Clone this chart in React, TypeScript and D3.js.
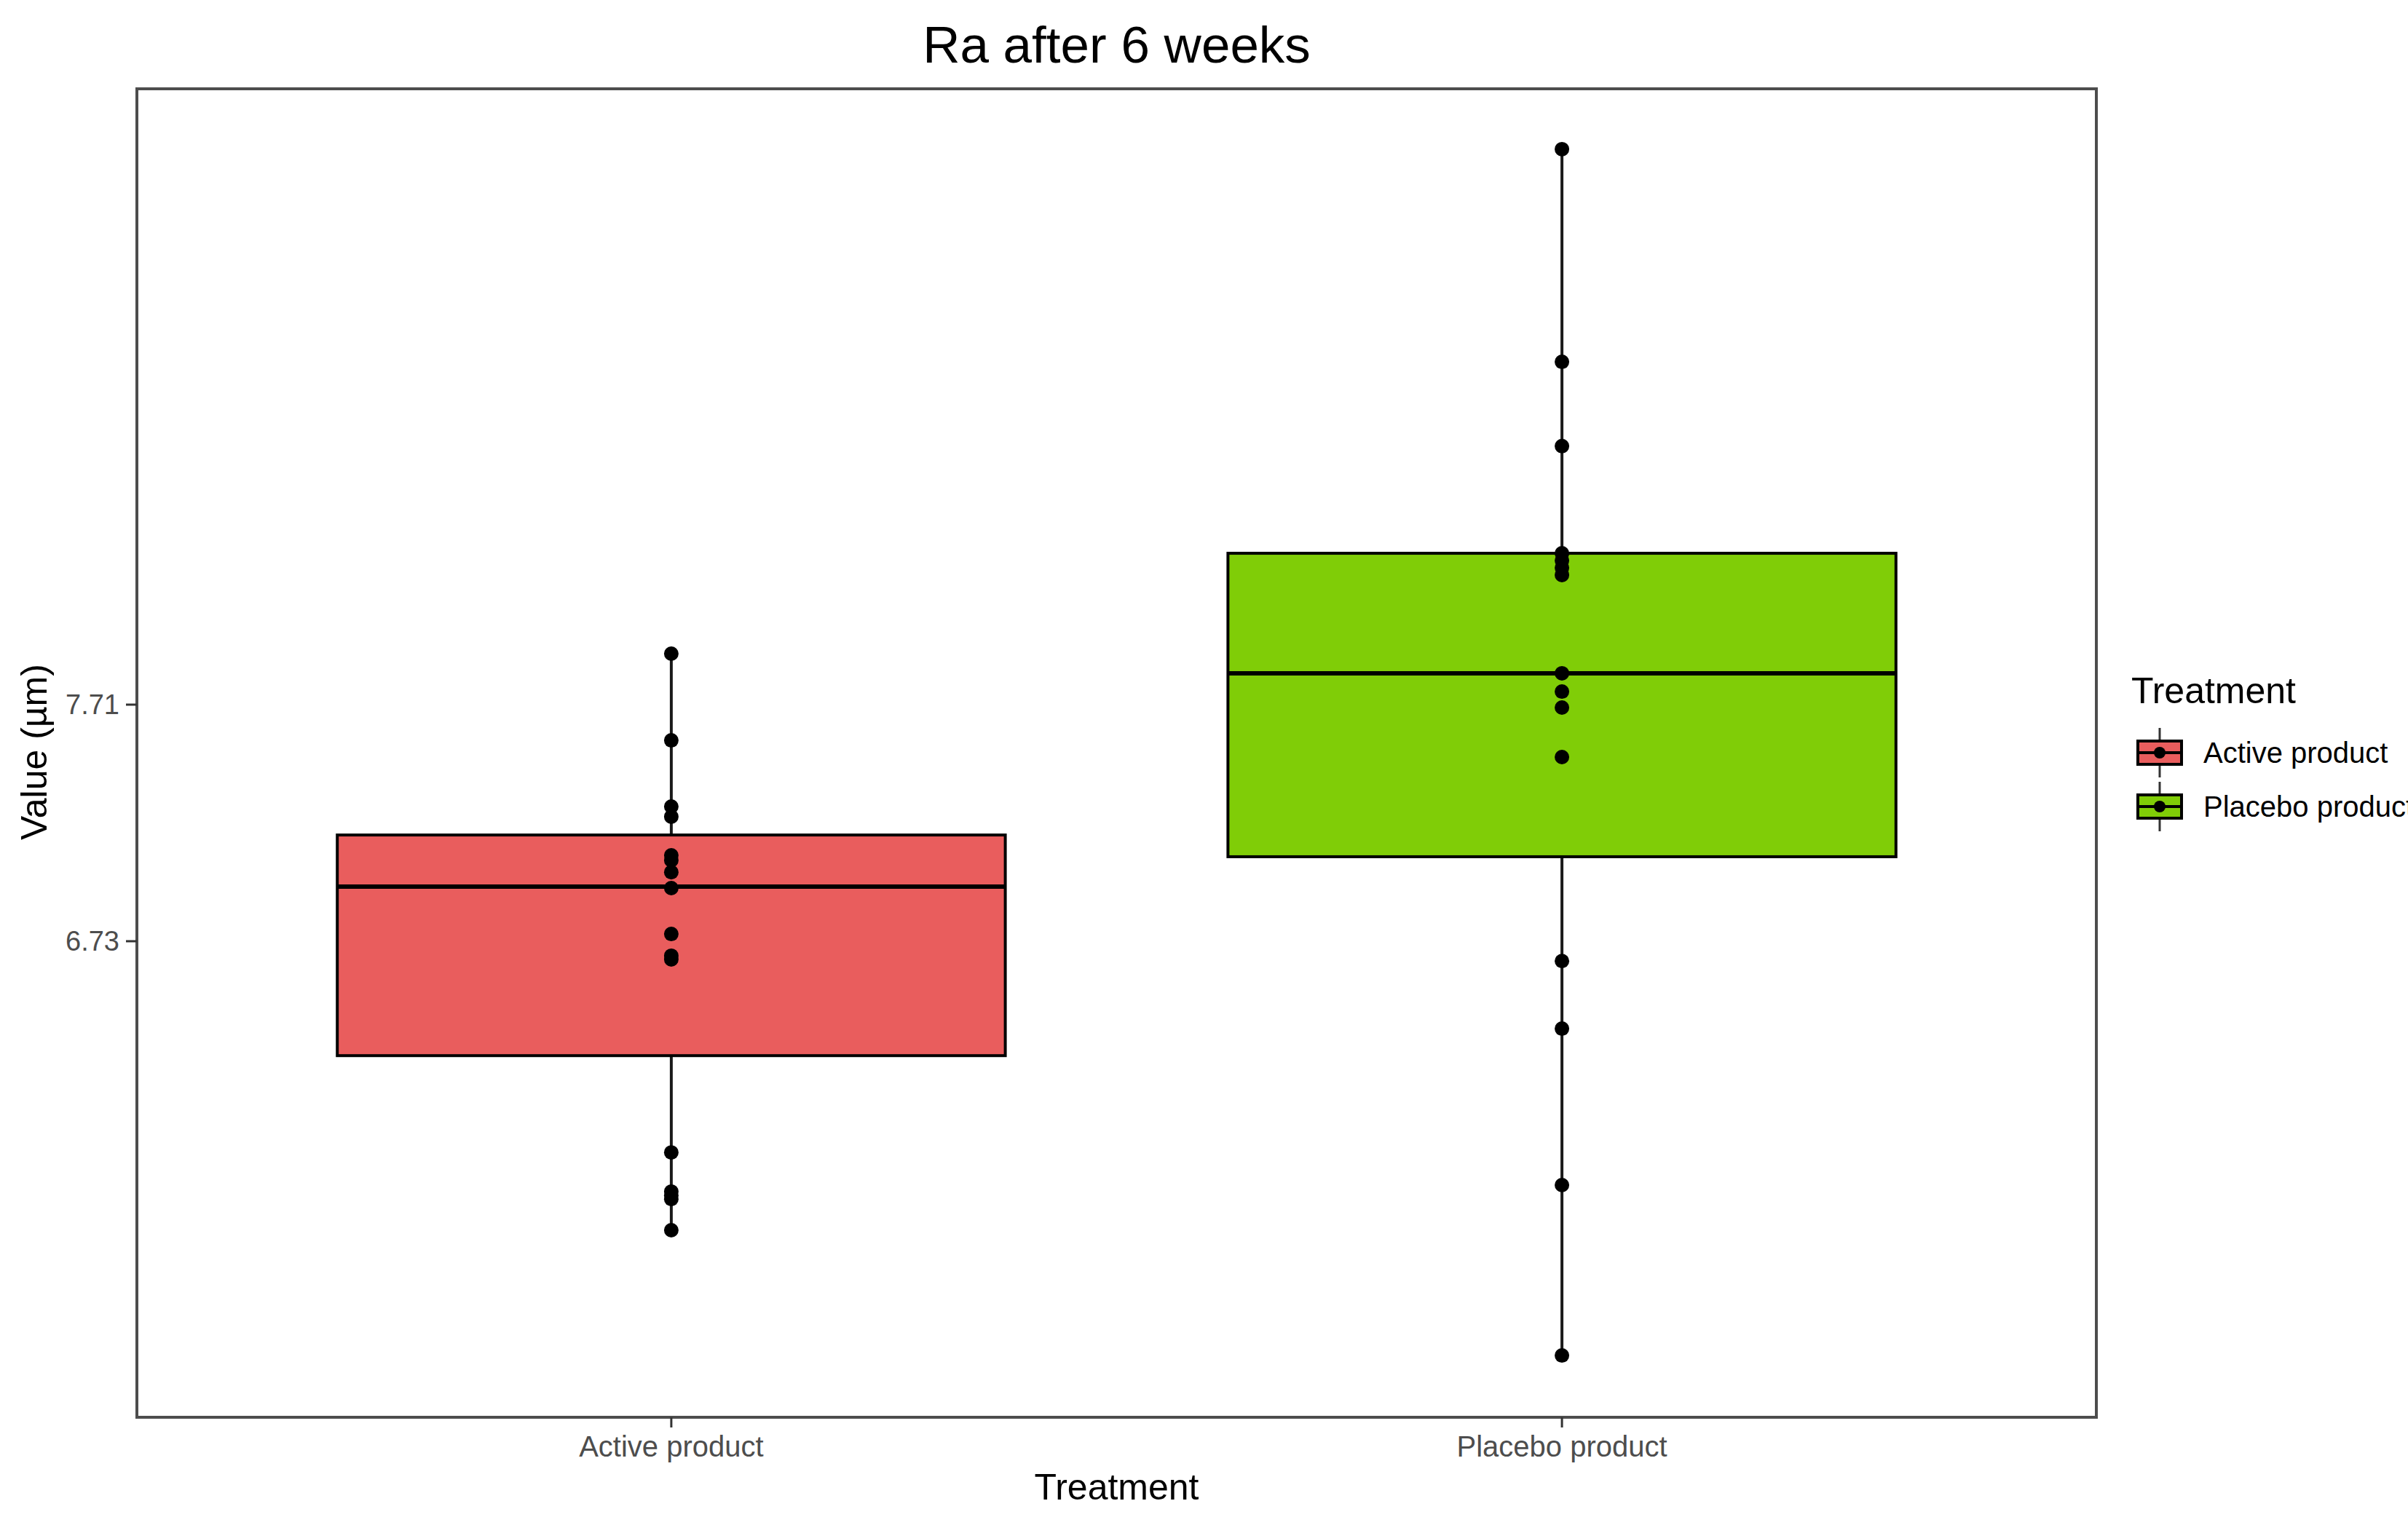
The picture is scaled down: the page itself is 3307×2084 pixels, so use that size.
import React from "react";
import * as d3 from "d3";

const categories = ["Active product", "Placebo product"];
const colors = ["#E95D5D", "#80CD07"];

// box statistics per category: [lower whisker, Q1, median, Q3, upper whisker]
const boxStats = [
  [5.533, 6.256, 6.956, 7.17, 7.921],
  [5.014, 7.08, 7.84, 8.337, 10.011],
];

const activeValues = [7.921, 7.562, 7.288, 7.246, 7.086, 7.065, 7.016, 6.95, 6.76, 6.67, 6.655, 5.855, 5.693, 5.677, 5.662, 5.533];
const placeboValues = [10.011, 9.13, 8.781, 8.337, 8.307, 8.277, 8.247, 7.84, 7.764, 7.698, 7.493, 6.648, 6.368, 5.72, 5.014];
const seriesValues = [activeValues, placeboValues];

const yTicks = [6.73, 7.71];
const yDomain = [4.758, 10.261];

const W = 3307;
const H = 2084;
const panel = { left: 188, top: 122, right: 2879, bottom: 1947 };
const font = "'Liberation Sans', Arial, sans-serif";

export default function App() {
  const x = d3.scalePoint<string>().domain(categories).range([panel.left, panel.right]).padding(0.6);
  const y = d3.scaleLinear().domain(yDomain).range([panel.bottom, panel.top]);
  const boxW = x.step() * 0.75;

  return (
    <svg
      width={W}
      height={H}
      style={{ position: "absolute", left: 0, top: 0, background: "#fff" }}
      fontFamily={font}
    >
      <rect x={0} y={0} width={W} height={H} fill="#fff" />
      {/* title */}
      <text x={(panel.left + panel.right) / 2} y={86} fontSize={71} textAnchor="middle" fill="#000">
        Ra after 6 weeks
      </text>

      {/* boxes */}
      {categories.map((c, i) => {
        const cx = x(c)!;
        const [lo, q1, med, q3, hi] = boxStats[i];
        return (
          <g key={c}>
            <line x1={cx} x2={cx} y1={y(hi)} y2={y(q3)} stroke="#1a1a1a" strokeWidth={4} />
            <line x1={cx} x2={cx} y1={y(q1)} y2={y(lo)} stroke="#1a1a1a" strokeWidth={4} />
            <rect
              x={cx - boxW / 2}
              y={y(q3)}
              width={boxW}
              height={y(q1) - y(q3)}
              fill={colors[i]}
              stroke="#000"
              strokeWidth={4}
            />
            <line x1={cx - boxW / 2} x2={cx + boxW / 2} y1={y(med)} y2={y(med)} stroke="#000" strokeWidth={6} />
            {seriesValues[i].map((v, j) => (
              <circle key={j} cx={cx} cy={y(v)} r={10} fill="#000" />
            ))}
          </g>
        );
      })}

      {/* panel border */}
      <rect
        x={panel.left}
        y={panel.top}
        width={panel.right - panel.left}
        height={panel.bottom - panel.top}
        fill="none"
        stroke="#4d4d4d"
        strokeWidth={4}
      />

      {/* y axis ticks */}
      {yTicks.map((t) => (
        <g key={t}>
          <line x1={panel.left - 15} x2={panel.left} y1={y(t)} y2={y(t)} stroke="#333" strokeWidth={3} />
          <text x={panel.left - 24} y={y(t)} dy="0.35em" fontSize={38} textAnchor="end" fill="#4d4d4d">
            {t.toFixed(2)}
          </text>
        </g>
      ))}
      {/* x axis ticks */}
      {categories.map((c) => (
        <g key={c}>
          <line x1={x(c)} x2={x(c)} y1={panel.bottom} y2={panel.bottom + 14} stroke="#333" strokeWidth={3} />
          <text x={x(c)} y={panel.bottom + 54} fontSize={40} textAnchor="middle" fill="#4d4d4d">
            {c}
          </text>
        </g>
      ))}

      {/* axis titles */}
      <text x={(panel.left + panel.right) / 2} y={2060} fontSize={50} textAnchor="middle" fill="#000">
        Treatment
      </text>
      <text
        transform={`translate(64, ${1033}) rotate(-90)`}
        fontSize={50}
        textAnchor="middle"
        fill="#000"
      >
        Value (µm)
      </text>

      {/* legend */}
      <text x={2927} y={966} fontSize={50} fill="#000">
        Treatment
      </text>
      {categories.map((c, i) => {
        const ky = 1034 + i * 74;
        const kx = 2966;
        return (
          <g key={c}>
            <line x1={kx} x2={kx} y1={ky - 34} y2={ky + 34} stroke="#333" strokeWidth={3} />
            <rect x={kx - 30} y={ky - 16} width={60} height={32} fill={colors[i]} stroke="#000" strokeWidth={4} />
            <line x1={kx - 30} x2={kx + 30} y1={ky} y2={ky} stroke="#000" strokeWidth={4} />
            <circle cx={kx} cy={ky} r={8} fill="#000" />
            <text x={3026} y={ky} dy="0.35em" fontSize={40} fill="#000">
              {c}
            </text>
          </g>
        );
      })}
    </svg>
  );
}
